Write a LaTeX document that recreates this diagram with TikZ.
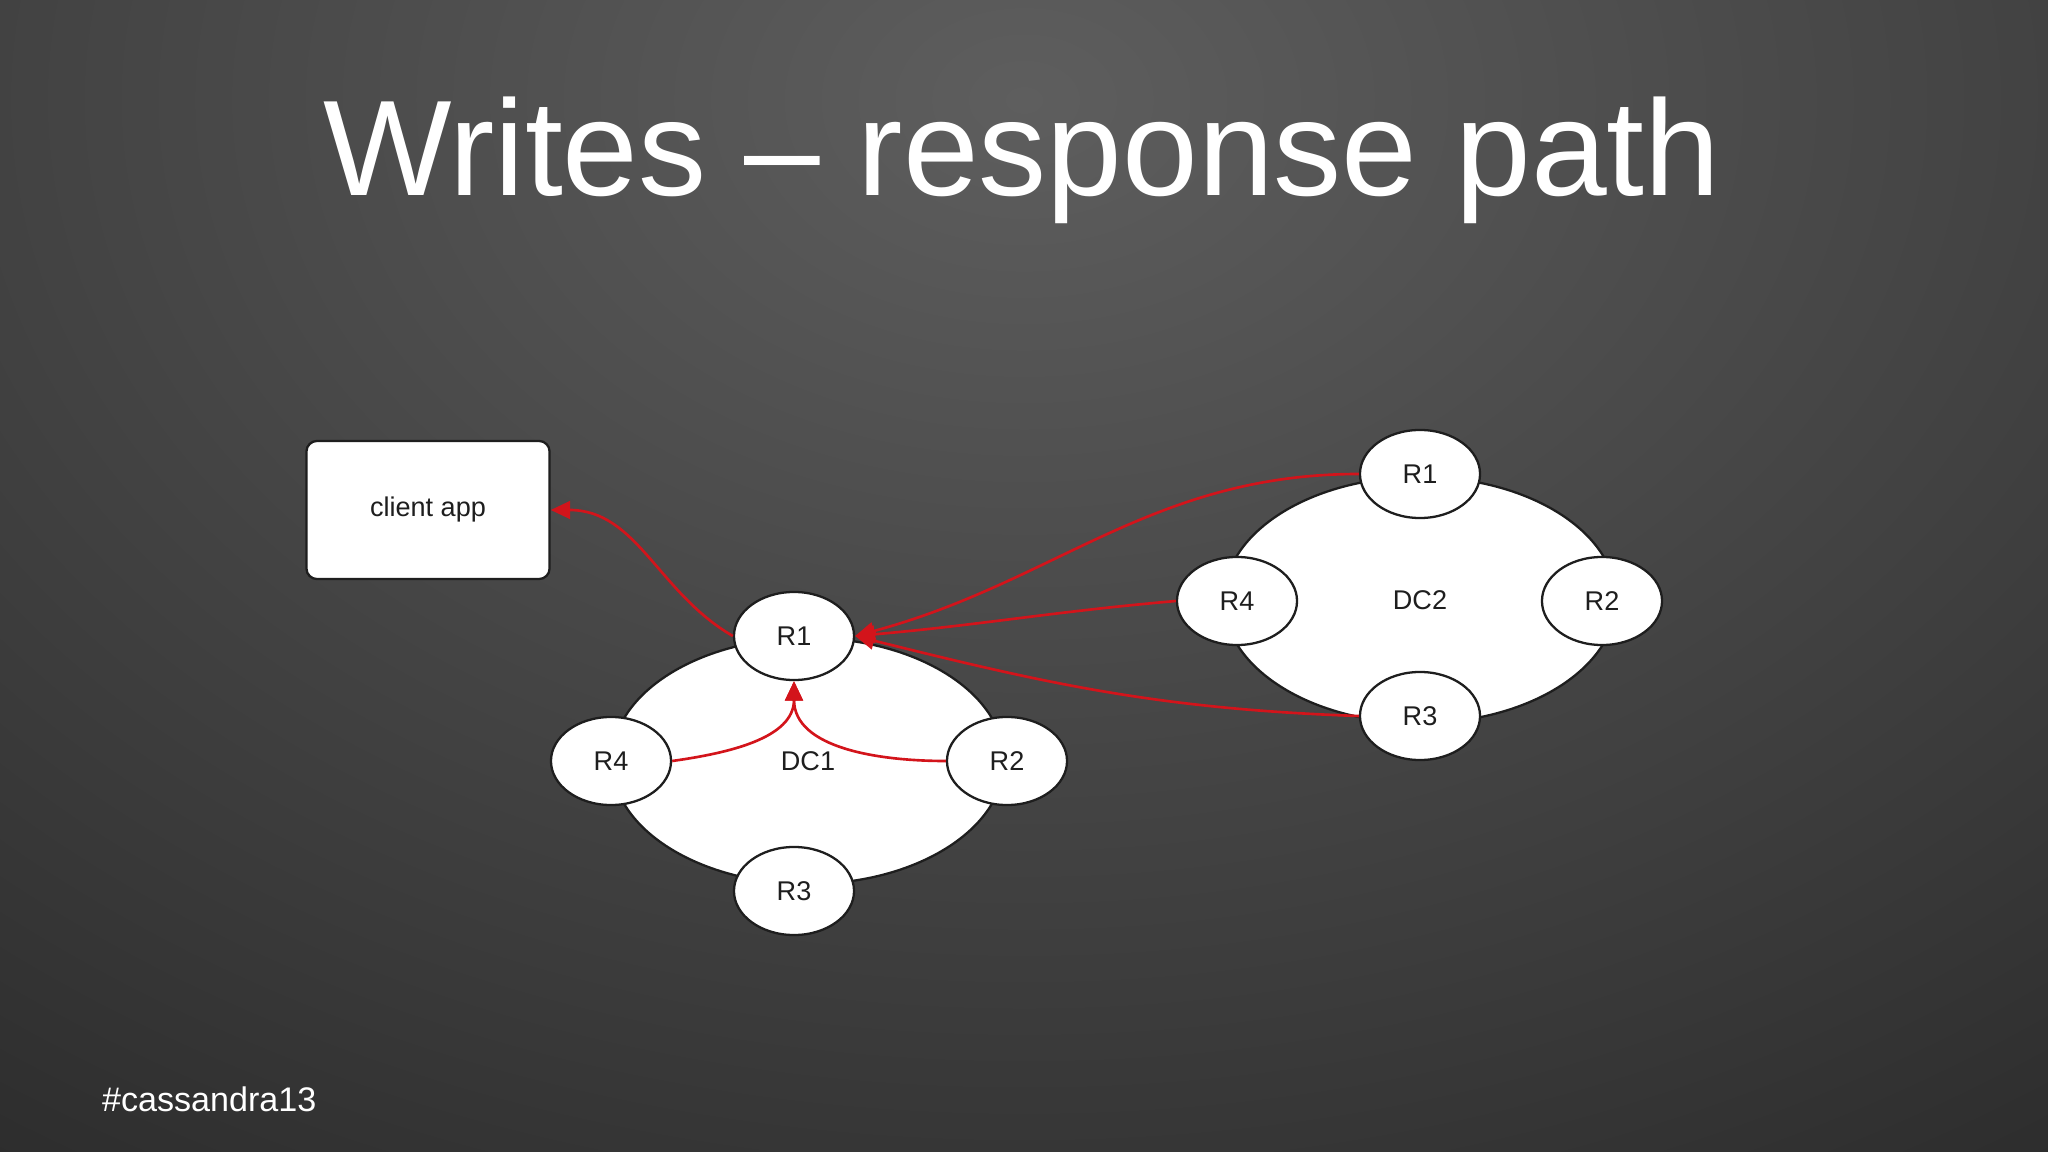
\documentclass[tikz,border=0pt]{standalone}
\usepackage{fontspec}
\setmainfont{Liberation Sans}
\usetikzlibrary{arrows.meta, positioning, shapes.geometric}
\definecolor{bgdark}{HTML}{252525}
\definecolor{bglight}{HTML}{5E5E5E}
\definecolor{cred}{HTML}{D3141B}
\definecolor{cink}{HTML}{1E1E1E}
\tikzset{
  every picture/.style={line width=0.65pt},
  dcring/.style={ellipse, draw=cink, fill=white, minimum width=3.92cm, minimum height=2.46cm, inner sep=0pt, font=\fontsize{7.7}{9}\selectfont, text=cink},
  replica/.style={ellipse, draw=cink, fill=white, minimum width=1.2cm, minimum height=0.88cm, inner sep=0pt, font=\fontsize{7.7}{9}\selectfont, text=cink},
  appbox/.style={draw=cink, fill=white, rounded corners=3pt, minimum width=2.43cm, minimum height=1.38cm, font=\fontsize{7.7}{9}\selectfont, text=cink},
  resp/.style={-{Triangle[length=5.5pt, width=5pt]}, draw=cred, line width=0.75pt},
  title/.style={font=\fontsize{38.7}{42}\selectfont, text=white, inner sep=0pt},
  tag/.style={font=\fontsize{9.7}{11}\selectfont, text=white, inner sep=0pt},
}

\begin{document}
\begin{tikzpicture}[x=0.01cm, y=-0.01cm]
  % slide background
  \useasboundingbox (0,0) rectangle (2048,1152);
  \fill[bgdark] (0,0) rectangle (2048,1152);
  \begin{scope}
    \clip (0,0) rectangle (2048,1152);
    \shade[inner color=bglight, outer color=bgdark] (1024,100) ellipse (2100 and 1500);
  \end{scope}
  \node[title, anchor=base] (head) at (1022,196) {Writes – response path};

  % data centre 1, R1 is the coordinator
  \node[dcring] (dc1) at (808,761) {DC1};
  \node[replica] (a1) at (794,636) {R1};
  \node[replica] (a2) at (1007,761) {R2};
  \node[replica] (a3) at (794,891) {R3};
  \node[replica] (a4) at (611,761) {R4};

  % data centre 2
  \node[dcring] (dc2) at (1420,600) {DC2};
  \node[replica] (b1) at (1420,474) {R1};
  \node[replica] (b2) at (1602,601) {R2};
  \node[replica] (b3) at (1420,716) {R3};
  \node[replica] (b4) at (1237,601) {R4};

  \node[appbox] (client) at (428,510) {client app};

  % acks back to the coordinator
  \draw[resp] (a4.east) to[out=8, in=-90] (a1.south);
  \draw[resp] (a2.west) to[out=180, in=-90] (a1.south);
  \draw[resp] (b1.west) to[out=180, in=15] (a1.east);
  \draw[resp] (b4.west) to[out=185, in=5] (a1.east);
  \draw[resp] (b3.west) to[out=178, in=-14] (a1.east);
  % coordinator answers the client
  \draw[resp] (a1.west) to[out=150, in=0] (client.east);

  \node[tag, anchor=base west] (tag) at (101,1111) {\#cassandra13};
\end{tikzpicture}
\end{document}
